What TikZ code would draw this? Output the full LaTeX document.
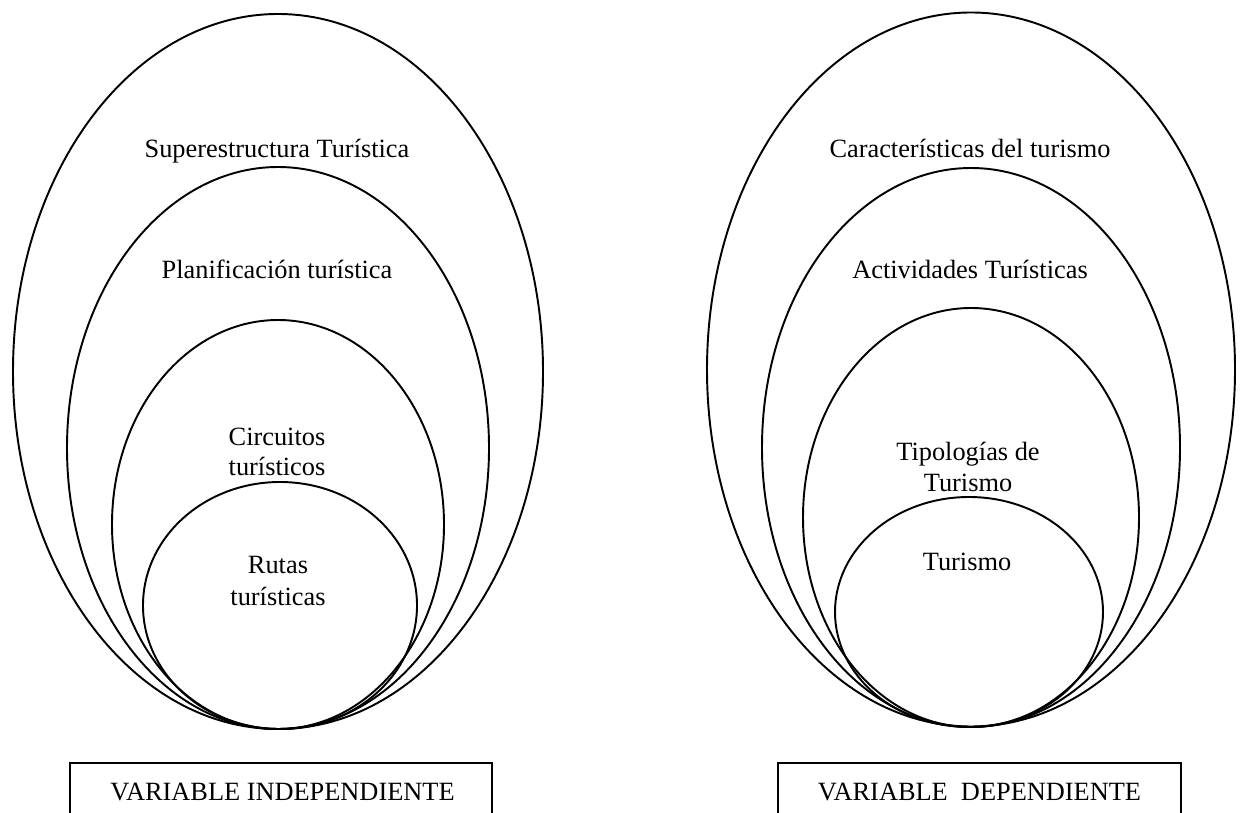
\documentclass[tikz,border=0pt]{standalone}
\usepackage{fontspec}
\setmainfont{Liberation Serif}
\usetikzlibrary{positioning}
\tikzset{
  ring/.style={draw, line width=1.1pt},
  lbl/.style={anchor=base, inner sep=0pt, font=\fontsize{15}{18}\selectfont},
  varbox/.style={draw, line width=1.1pt}
}
\begin{document}
\begin{tikzpicture}[x=0.02cm, y=0.02cm]
 \useasboundingbox (0,0) rectangle (1240,-813);
 \clip (0,0) rectangle (1240,-813);

 %left rings
 \path[ring] (278,-371.5) ellipse [x radius=265, y radius=357.5];
 \path[ring] (278,-448) ellipse [x radius=211, y radius=281];
 \path[ring] (278,-524.5) ellipse [x radius=166, y radius=204.5];
 \path[ring] (280,-605.5) ellipse [x radius=137, y radius=123.5];

 %right rings
 \path[ring] (971,-369.5) ellipse [x radius=264, y radius=357];
 \path[ring] (971,-447.5) ellipse [x radius=209, y radius=279.5];
 \path[ring] (971,-517.5) ellipse [x radius=168, y radius=209.5];
 \path[ring] (969,-612) ellipse [x radius=134, y radius=115];

 %left labels
 \node[lbl] (sup) at (277,-158) {Superestructura Turística};
 \node[lbl] (plan) at (277,-279) {Planificación turística};
 \node[lbl] (circ1) at (277,-446) {Circuitos};
 \node[lbl] (circ2) at (277,-476) {turísticos};
 \node[lbl] (ruta1) at (278,-574) {Rutas};
 \node[lbl] (ruta2) at (278,-605) {turísticas};

 %right labels
 \node[lbl] (car) at (970,-158) {Características del turismo};
 \node[lbl] (act) at (970,-279) {Actividades Turísticas};
 \node[lbl] (tip1) at (968,-461) {Tipologías de};
 \node[lbl] (tip2) at (968,-492) {Turismo};
 \node[lbl] (tur) at (967,-571) {Turismo};

 %boxes
 \draw[varbox] (70,-763) rectangle (492,-900);
 \draw[varbox] (778,-763) rectangle (1181,-900);
 \node[lbl] (vi) at (282.5,-800) {VARIABLE INDEPENDIENTE};
 \node[lbl] (vd) at (979.5,-800) {VARIABLE~~DEPENDIENTE};

\end{tikzpicture}
\end{document}
